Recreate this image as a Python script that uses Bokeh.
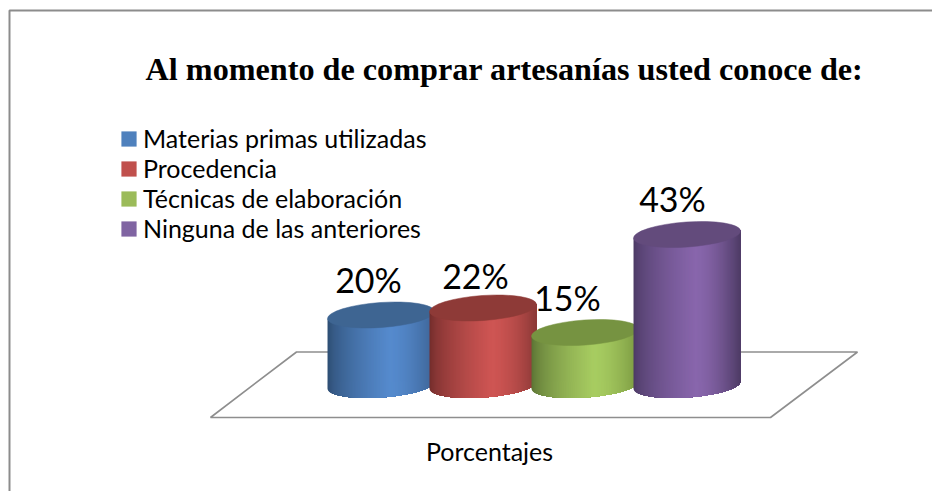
import numpy as np
from bokeh.plotting import figure
from bokeh.models import Legend, LegendItem, Range1d
from bokeh.core.properties import value
from bokeh.embed import file_html
from bokeh.resources import INLINE

title = "Al momento de comprar artesanías usted conoce de:"
categories = ["Materias primas utilizadas", "Procedencia", "Técnicas de elaboración", "Ninguna de las anteriores"]
values = [20, 22, 15, 43]
labels = ["20%", "22%", "15%", "43%"]
axis_label = "Porcentajes"

legend_colors = ["#4f81bd", "#c0504d", "#9bbb59", "#8064a2"]
left_colors = ["#2c4a6e", "#6e2b2a", "#586f32", "#493861"]
peak_colors = ["#558acd", "#ce5553", "#a7cc61", "#8866ac"]
right_colors = ["#3d6394", "#8b3937", "#7a9841", "#4e3b65"]
top_colors = ["#3e6592", "#8e3a37", "#769341", "#634b7c"]

W, H = 932, 491
OX, OY = 0, 0
BASE_X, BASE_Y = 380.5, 384.5   # page pixel of category 0 / value 0
DX, DY = 102.0, 3.5             # pixels per category / per percentage point


def xd(px):
    return (px - BASE_X) / DX


def yd(py):
    return (BASE_Y - py) / DY


p = figure(width=W, height=H, output_backend="svg", toolbar_location=None,
           x_range=Range1d(xd(OX), xd(OX + W)), y_range=Range1d(yd(OY + H), yd(OY)),
           min_border=0, outline_line_color=None, background_fill_color="white",
           border_fill_color="white")
p.axis.visible = False
p.grid.visible = False

# chart frame (only top and left edges are inside the picture)
p.line([xd(9), xd(9), xd(OX + W)], [yd(OY + H), yd(10), yd(10)], line_color="#8c8c8c", line_width=2)

# floor
p.patch([xd(210), xd(296), xd(857), xd(770)], [yd(417), yd(351.5), yd(351.5), yd(417)],
        fill_color="white", line_color="#8e8e8e", line_width=1.6)

# cylinders
a, b, theta = 53.6, 12.5, np.radians(4.0)
t = np.linspace(0, 2 * np.pi, 721)
ex = a * np.cos(t) * np.cos(theta) - b * np.sin(t) * np.sin(theta)
ey = a * np.cos(t) * np.sin(theta) + b * np.sin(t) * np.cos(theta)
i_l, i_r = int(np.argmin(ex)), int(np.argmax(ex))
order = np.arange(i_l, i_r + 1) if i_l < i_r else np.r_[np.arange(i_l, 721), np.arange(0, i_r + 1)]
low_x, low_y = ex[order], ey[order]
hw = ex.max()
edges = np.linspace(-hw, hw, 108)


def hex2rgb(c):
    return np.array([int(c[i:i + 2], 16) for i in (1, 3, 5)], float)


def shade(f, k):
    peak = 0.58
    l, m, r = hex2rgb(left_colors[k]), hex2rgb(peak_colors[k]), hex2rgb(right_colors[k])
    if f < peak:
        u = (f / peak) ** 0.6
        c = l + (m - l) * u
    else:
        u = ((f - peak) / (1 - peak)) ** 1.6
        c = m + (r - m) * u
    return "#%02x%02x%02x" % tuple(int(round(v)) for v in c)


for k, v in enumerate(values):
    xs, ys, cs = [], [], []
    for j in range(len(edges) - 1):
        # each strip runs to the right end of the cylinder, so later strips paint over it without seams
        mask = low_x > edges[j]
        sx = np.r_[edges[j], low_x[mask]]
        sy = np.r_[np.interp(edges[j], low_x, low_y), low_y[mask]]
        xs.append(list(k + sx / DX) + [k + hw / DX, k + edges[j] / DX])
        ys.append(list(sy / DY) + [v + hw * np.tan(theta) / DY, v + edges[j] * np.tan(theta) / DY])
        cs.append(shade((j + 0.5) / (len(edges) - 1), k))
    p.patches(xs, ys, fill_color=cs, line_color=None)
    p.ellipse([k], [v], width=2 * a, height=2 * b, angle=theta,
              width_units="screen", height_units="screen",
              fill_color=top_colors[k], line_color=top_colors[k], line_width=0.5)

# data labels (text is centred vertically on its y position)
label_dx = [-12.5, -7.5, -17.5, -14.5]
label_dy = [35.5, 32.5, 35, 36.5]
p.text([k + label_dx[k] / DX for k in range(4)],
       [values[k] + label_dy[k] / DY for k in range(4)], text=labels,
       text_font=value("Lato"), text_font_size="34px", text_color="#000000",
       text_align="center", text_baseline="middle")

# title and axis label
p.text([xd(504)], [yd(68.5)], text=[title], text_font=value("Liberation Serif"),
       text_font_style="bold", text_font_size="32.2px", text_color="#000000",
       text_align="center", text_baseline="middle")
p.text([xd(489)], [yd(450)], text=[axis_label], text_font=value("Lato"),
       text_font_size="25px", text_color="#000000",
       text_align="center", text_baseline="middle")

# legend
items = []
for c, name in zip(legend_colors, categories):
    r = p.quad(left=[float("nan")], right=[float("nan")], bottom=[float("nan")], top=[float("nan")],
               fill_color=c, line_color=None)
    items.append(LegendItem(label=name, renderers=[r]))
legend = Legend(items=items, location=(119, 248), orientation="vertical",
                background_fill_alpha=0, border_line_color=None, padding=0, margin=0,
                glyph_width=19, glyph_height=19, label_standoff=5, spacing=0,
                label_text_font="Lato", label_text_font_size="25px",
                label_text_color="#000000", label_height=19)
p.add_layout(legend, "center")

open("out.html", "w").write(file_html(p, INLINE))
